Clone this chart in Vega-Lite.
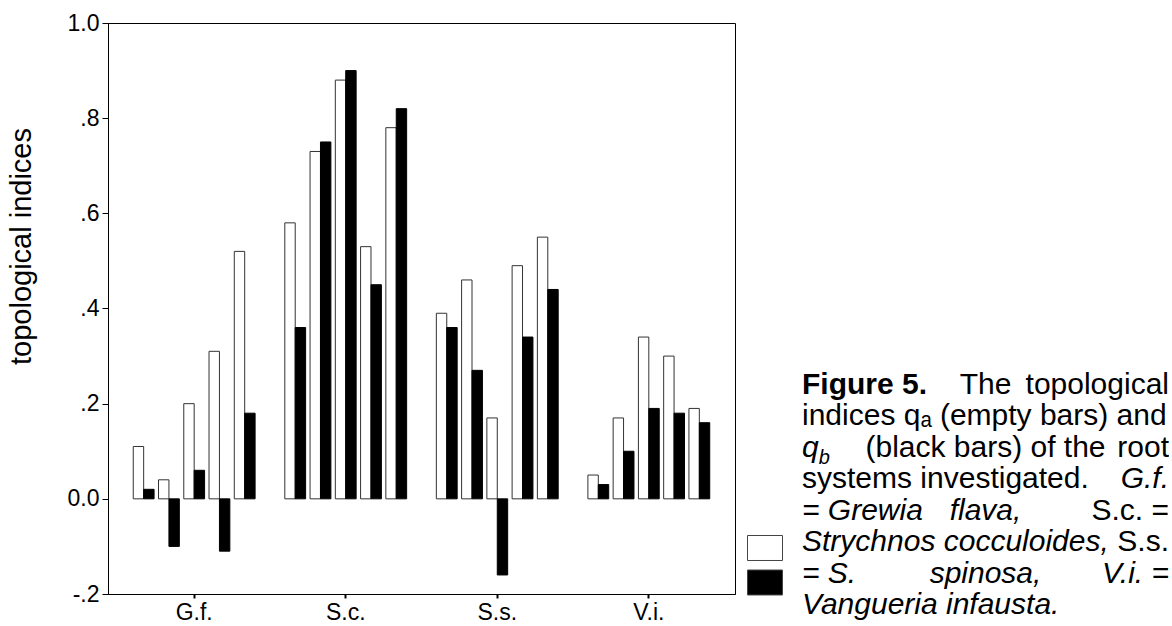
{
  "$schema": "https://vega.github.io/schema/vega-lite/v6.json",
  "background": "white",
  "padding": {"left": 6, "top": 11, "right": 0, "bottom": 0},
  "bounds": "flush",
  "spacing": 67,
  "config": {
    "font": "Liberation Sans",
    "axis": {"grid": false, "domainColor": "#000", "tickColor": "#000", "labelColor": "#000", "titleColor": "#000", "labelFont": "Liberation Sans", "titleFont": "Liberation Sans", "titleFontWeight": "normal"},
    "legend": {"orient": "none", "legendX": 639, "legendY": 507, "title": null, "symbolType": "M-1,-0.714H1V0.714H-1Z", "symbolSize": 1225, "symbolStrokeColor": "#444", "symbolStrokeWidth": 1, "symbolOpacity": 1, "labelExpr": "''", "labelFontSize": 1, "labelOpacity": 0, "rowPadding": 1.5, "padding": 0}
  },
  "hconcat": [
    {
      "width": 627,
      "height": 571,
      "view": {"stroke": "#000", "strokeWidth": 1},
      "data": {"values": [
        {"sample": "G.f.|1", "index": "qa", "value": 0.11}, {"sample": "G.f.|1", "index": "qb", "value": 0.02},
        {"sample": "G.f.|2", "index": "qa", "value": 0.04}, {"sample": "G.f.|2", "index": "qb", "value": -0.10},
        {"sample": "G.f.|3", "index": "qa", "value": 0.20}, {"sample": "G.f.|3", "index": "qb", "value": 0.06},
        {"sample": "G.f.|4", "index": "qa", "value": 0.31}, {"sample": "G.f.|4", "index": "qb", "value": -0.11},
        {"sample": "G.f.|5", "index": "qa", "value": 0.52}, {"sample": "G.f.|5", "index": "qb", "value": 0.18},
        {"sample": "S.c.|1", "index": "qa", "value": 0.58}, {"sample": "S.c.|1", "index": "qb", "value": 0.36},
        {"sample": "S.c.|2", "index": "qa", "value": 0.73}, {"sample": "S.c.|2", "index": "qb", "value": 0.75},
        {"sample": "S.c.|3", "index": "qa", "value": 0.88}, {"sample": "S.c.|3", "index": "qb", "value": 0.90},
        {"sample": "S.c.|4", "index": "qa", "value": 0.53}, {"sample": "S.c.|4", "index": "qb", "value": 0.45},
        {"sample": "S.c.|5", "index": "qa", "value": 0.78}, {"sample": "S.c.|5", "index": "qb", "value": 0.82},
        {"sample": "S.s.|1", "index": "qa", "value": 0.39}, {"sample": "S.s.|1", "index": "qb", "value": 0.36},
        {"sample": "S.s.|2", "index": "qa", "value": 0.46}, {"sample": "S.s.|2", "index": "qb", "value": 0.27},
        {"sample": "S.s.|3", "index": "qa", "value": 0.17}, {"sample": "S.s.|3", "index": "qb", "value": -0.16},
        {"sample": "S.s.|4", "index": "qa", "value": 0.49}, {"sample": "S.s.|4", "index": "qb", "value": 0.34},
        {"sample": "S.s.|5", "index": "qa", "value": 0.55}, {"sample": "S.s.|5", "index": "qb", "value": 0.44},
        {"sample": "V.i.|1", "index": "qa", "value": 0.05}, {"sample": "V.i.|1", "index": "qb", "value": 0.03},
        {"sample": "V.i.|2", "index": "qa", "value": 0.17}, {"sample": "V.i.|2", "index": "qb", "value": 0.10},
        {"sample": "V.i.|3", "index": "qa", "value": 0.34}, {"sample": "V.i.|3", "index": "qb", "value": 0.19},
        {"sample": "V.i.|4", "index": "qa", "value": 0.30}, {"sample": "V.i.|4", "index": "qb", "value": 0.18},
        {"sample": "V.i.|5", "index": "qa", "value": 0.19}, {"sample": "V.i.|5", "index": "qb", "value": 0.16}
      ]},
      "encoding": {
        "y": {"field": "value", "type": "quantitative", "stack": null,
          "scale": {"domain": [-0.2, 1.0], "nice": false, "zero": false},
          "axis": {"values": [-0.2, 0, 0.2, 0.4, 0.6, 0.8, 1.0], "labelExpr": "datum.value > 0.99 ? '1.0' : (abs(datum.value) < 0.001 ? '0.0' : (datum.value < 0 ? '-' : '') + replace(format(abs(datum.value), '.1f'), '0.', '.'))", "labelFontSize": 23, "labelPadding": 3, "tickSize": 6, "title": "topological indices", "titleFontSize": 29, "titlePadding": 31, "titleY": 223}}
      },
      "layer": [
        {
          "data": {"values": [{}]},
          "mark": {"type": "rule", "color": "#808080", "strokeWidth": 1},
          "encoding": {"y": {"datum": 0, "type": "quantitative"}}
        },
        {
          "transform": [{"filter": "datum.index == 'qa'"}],
          "mark": {"type": "bar", "orient": "vertical", "stroke": "#333", "strokeWidth": 1},
          "encoding": {
            "x": {"field": "sample", "type": "nominal", "bandPosition": 0,
              "scale": {"domain": ["G.f.|1", "G.f.|2", "G.f.|3", "G.f.|4", "G.f.|5", "gap1", "S.c.|1", "S.c.|2", "S.c.|3", "S.c.|4", "S.c.|5", "gap2", "S.s.|1", "S.s.|2", "S.s.|3", "S.s.|4", "S.s.|5", "gap3", "V.i.|1", "V.i.|2", "V.i.|3", "V.i.|4", "V.i.|5"], "paddingInner": 0.1758, "paddingOuter": 1.265},
              "axis": {"values": ["G.f.|3", "S.c.|3", "S.s.|3", "V.i.|3"], "labelExpr": "split(datum.value, '|')[0]", "title": null, "labelAngle": 0, "labelFontSize": 23, "labelPadding": 3, "tickSize": 4, "tickWidth": 2}},
            "x2": {"field": "sample", "bandPosition": 0.5},
            "color": {"field": "index", "type": "nominal", "scale": {"domain": ["qa", "qb"], "range": ["#ffffff", "#000000"]}}
          }
        },
        {
          "transform": [{"filter": "datum.index == 'qb'"}],
          "mark": {"type": "bar", "orient": "vertical", "stroke": "#000", "strokeWidth": 1},
          "encoding": {
            "x": {"field": "sample", "type": "nominal", "bandPosition": 0.5},
            "x2": {"field": "sample", "bandPosition": 1},
            "color": {"field": "index", "type": "nominal"}
          }
        }
      ]
    },
    {
      "width": 367,
      "height": 598,
      "view": {"stroke": null},
      "data": {"values": [
        {"line": 1, "part": "start", "kind": "label", "text": "Figure 5."},
        {"line": 1, "part": "middle", "kind": "text", "text": "The"},
        {"line": 1, "part": "end", "kind": "text", "text": "topological"},
        {"line": 2, "part": "start", "kind": "text", "text": "indices qₐ (empty bars) and"},
        {"line": 3, "part": "start", "kind": "index", "text": "q"},
        {"line": 3, "part": "start", "kind": "sub", "text": "\u200b\u00a0\u00a0\u00a0b"},
        {"line": 3, "part": "middle", "kind": "text", "text": "(black bars) of the"},
        {"line": 3, "part": "end", "kind": "text", "text": "root"},
        {"line": 4, "part": "start", "kind": "text", "text": "systems investigated."},
        {"line": 4, "part": "end", "kind": "taxon", "text": "G.f."},
        {"line": 5, "part": "start", "kind": "taxon", "text": "= Grewia"},
        {"line": 5, "part": "middle", "kind": "taxon", "text": "flava,"},
        {"line": 5, "part": "end", "kind": "text", "text": "S.c. ="},
        {"line": 6, "part": "start", "kind": "taxon", "text": "Strychnos cocculoides,"},
        {"line": 6, "part": "end", "kind": "text", "text": "S.s."},
        {"line": 7, "part": "start", "kind": "taxon", "text": "= S."},
        {"line": 7, "part": "middle", "kind": "taxon", "text": "spinosa,"},
        {"line": 7, "part": "end", "kind": "taxon", "text": "V.i. ="},
        {"line": 8, "part": "start", "kind": "taxon", "text": "Vangueria infausta."}
      ]},
      "encoding": {
        "x": {"field": "part", "type": "ordinal", "scale": {"type": "point", "domain": ["start", "middle", "end"], "padding": 0}, "axis": null},
        "y": {"field": "line", "type": "quantitative", "scale": {"domain": [-10.5, 8.5], "reverse": true, "nice": false, "zero": false}, "axis": null},
        "text": {"field": "text"}
      },
      "layer": [
        {"transform": [{"filter": "datum.kind == 'label'"}], "mark": {"type": "text", "align": "left", "baseline": "middle", "fontSize": 30, "fontWeight": "bold", "color": "#000"}},
        {"transform": [{"filter": "datum.kind == 'text' && datum.part == 'start'"}], "mark": {"type": "text", "align": "left", "baseline": "middle", "fontSize": 30, "color": "#000"}},
        {"transform": [{"filter": "datum.kind == 'text' && datum.part == 'middle'"}], "mark": {"type": "text", "align": "center", "baseline": "middle", "fontSize": 30, "color": "#000"}},
        {"transform": [{"filter": "datum.kind == 'text' && datum.part == 'end'"}], "mark": {"type": "text", "align": "right", "baseline": "middle", "fontSize": 30, "color": "#000"}},
        {"transform": [{"filter": "(datum.kind == 'taxon' || datum.kind == 'index') && datum.part == 'start'"}], "mark": {"type": "text", "align": "left", "baseline": "middle", "fontSize": 30, "fontStyle": "italic", "color": "#000"}},
        {"transform": [{"filter": "datum.kind == 'taxon' && datum.part == 'middle'"}], "mark": {"type": "text", "align": "center", "baseline": "middle", "fontSize": 30, "fontStyle": "italic", "color": "#000"}},
        {"transform": [{"filter": "datum.kind == 'taxon' && datum.part == 'end'"}], "mark": {"type": "text", "align": "right", "baseline": "middle", "fontSize": 30, "fontStyle": "italic", "color": "#000"}},
        {"transform": [{"filter": "datum.kind == 'sub'"}], "mark": {"type": "text", "align": "left", "baseline": "top", "fontSize": 20, "fontStyle": "italic", "color": "#000"}}
      ]
    }
  ]
}
